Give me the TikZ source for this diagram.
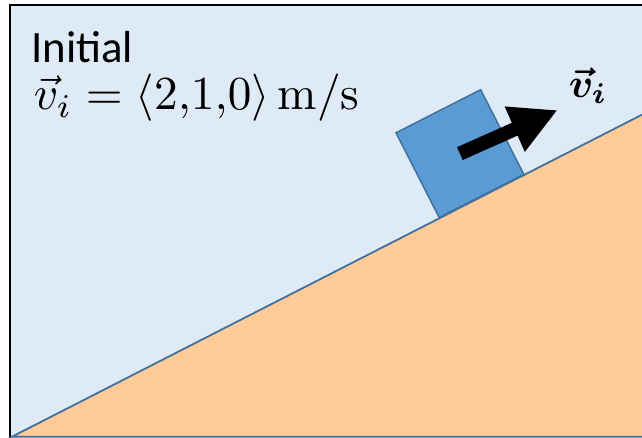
\documentclass[tikz,border=0pt]{standalone}
\usepackage{amsmath,bm}
\usepackage{fontspec}
\setsansfont{Carlito}
\usetikzlibrary{arrows.meta,calc}
\definecolor{skyc}{RGB}{222,235,247}
\definecolor{rampc}{RGB}{255,204,153}
\definecolor{edgec}{RGB}{65,113,156}
\definecolor{blockc}{RGB}{91,155,213}
\tikzset{
  rampshape/.style={fill=rampc, draw=edgec, line width=1.8bp},
  blockbox/.style={rectangle, fill=blockc, draw=edgec, line width=1.5bp, minimum width=95bp, minimum height=95bp, inner sep=0pt},
  velarrow/.style={line width=14bp, -{Triangle[width=46bp,length=47bp]}},
  txt/.style={inner sep=0pt, anchor=base west}
}
\begin{document}
\begin{tikzpicture}[x=1bp,y=1bp]
\useasboundingbox (0,0) rectangle (642,438);
\fill[skyc] (10,0) rectangle (660,433);
\draw[line width=2bp] (10,-5) -- (10,433) -- (660,433);
\coordinate (A) at (12,1.3);
\coordinate (B) at (660,332.5);
\coordinate (C) at (660,1.3);
\draw[rampshape] (A) -- (B) -- (C) -- cycle;
\node[blockbox, rotate=27, anchor=south] (blk) at ($(A)!0.725!(B)$) {};
\coordinate (tip) at ($(blk.center)+(24:107)$);
\draw[velarrow] (blk.center) -- (tip);
\node[anchor=center, inner sep=0pt, scale=4.1] (lbl) at (588,352) {$\bm{\vec{v}_i}$};
\node[txt] (title) at (31,375) {\fontsize{45}{50}\selectfont\sffamily Initial};
\node[txt, scale=4.75] (eq) at (33,328) {$\vec{v}_i = \langle 2{,}1{,}0\rangle\,\mathrm{m/s}$};
\end{tikzpicture}
\end{document}
